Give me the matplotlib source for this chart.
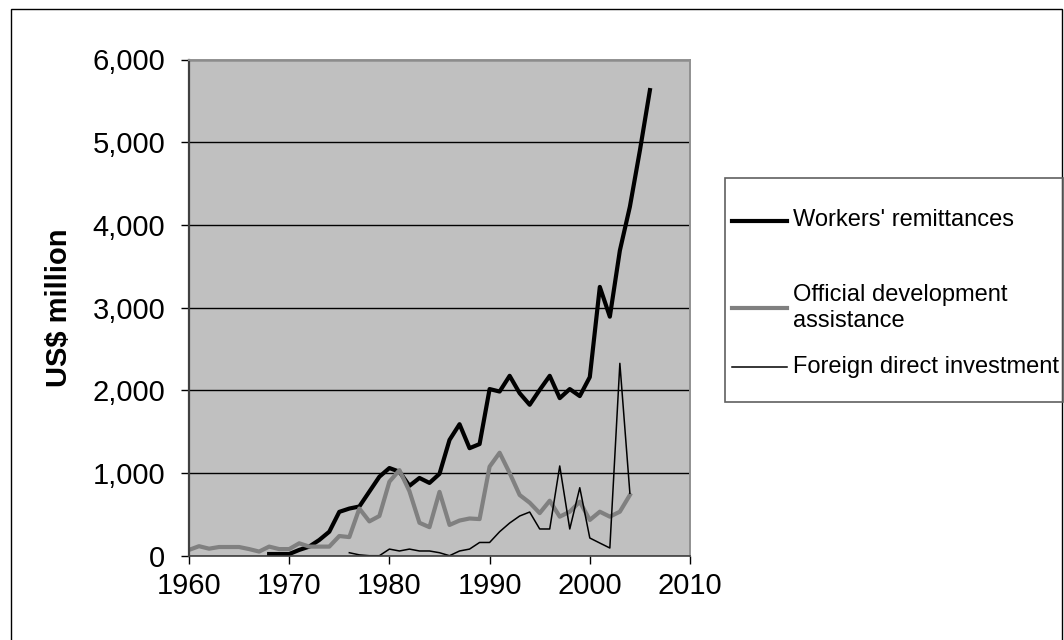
import numpy as np
import matplotlib
matplotlib.use("Agg")
import matplotlib.pyplot as plt
from matplotlib.lines import Line2D
from matplotlib.patches import Rectangle
from matplotlib.ticker import FuncFormatter

plt.rcParams['font.family'] = ['Liberation Sans', 'DejaVu Sans']

# data (US$ million)
rem_years = list(range(1968, 2007))
remittances = [20, 20, 20, 70, 110, 190, 290, 530, 570, 595,
               775, 955, 1060, 1015, 845, 940, 880, 990, 1400, 1590,
               1300, 1350, 2015, 1985, 2175, 1965, 1825, 2005, 2175, 1905,
               2015, 1930, 2160, 3250, 2890, 3690, 4220, 4900, 5630]

oda_years = list(range(1960, 2005))
oda = [70, 115, 85, 105, 105, 105, 80, 50, 110, 80,
       80, 150, 110, 110, 110, 238, 225, 570, 415, 480,
       895, 1035, 780, 398, 345, 772, 372, 425, 450, 443,
       1077, 1245, 1000, 734, 641, 515, 665, 472, 532, 653,
       432, 532, 472, 532, 734]

fdi_years = list(range(1976, 2005))
fdi = [36, 10, 0, 0, 80, 57, 80, 57, 57, 36,
       0, 57, 80, 160, 160, 290, 395, 480, 528, 323,
       323, 1085, 323, 822, 214, 153, 93, 2326, 755]

labels = ["Workers' remittances", "Official development\nassistance",
          "Foreign direct investment"]
colors = ['black', '#808080', 'black']
widths = [3.0, 3.0, 1.1]

W, H = 1064, 640
fig = plt.figure(figsize=(W / 100, H / 100), dpi=100)
ax = fig.add_axes([189 / W, 1 - 555.7 / H, (690 - 189) / W, (555.7 - 59.5) / H])
ax.set_facecolor('#C0C0C0')

ax.plot(rem_years, remittances, color=colors[0], lw=widths[0], solid_joinstyle='round')
ax.plot(oda_years, oda, color=colors[1], lw=widths[1], solid_joinstyle='round')
ax.plot(fdi_years, fdi, color=colors[2], lw=widths[2])

ax.set_xlim(1960, 2010)
ax.set_ylim(0, 6000)
ax.set_xticks(range(1960, 2011, 10))
ax.set_yticks(range(0, 6001, 1000))
ax.yaxis.set_major_formatter(FuncFormatter(lambda v, p: f'{int(v):,}'))
ax.grid(axis='y', color='black', lw=1.0)
ax.set_axisbelow(True)

ax.tick_params(axis='both', direction='out', length=6, width=1, color='black',
               labelsize=21)
ax.tick_params(axis='y', pad=11)
ax.tick_params(axis='x', pad=6)
ax.set_ylabel('US$ million', fontsize=21, fontweight='bold', labelpad=14)

ax.spines['left'].set_color('#404040')
ax.spines['left'].set_linewidth(1.6)
ax.spines['bottom'].set_color('#404040')
ax.spines['bottom'].set_linewidth(1.2)
for s in ['top', 'right']:
    ax.spines[s].set_color('#909090')
    ax.spines[s].set_linewidth(1.4)

# outer chart border
fig.add_artist(Rectangle((11 / W, -0.05), (1062 - 11) / W, 1.05 - 9 / H,
                         transform=fig.transFigure, fill=False,
                         edgecolor='black', lw=1.0))

# legend box
fig.add_artist(Rectangle((725 / W, 1 - 402 / H), (1063 - 725) / W, (402 - 178) / H,
                         transform=fig.transFigure, fill=False,
                         edgecolor='#606060', lw=1.2))
leg_y = [220.5, 308, 367]
for lab, c, lw, y in zip(labels, colors, widths, leg_y):
    fig.add_artist(Line2D([732 / W, 787 / W], [1 - y / H, 1 - y / H],
                          color=c, lw=lw, transform=fig.transFigure))
    fig.text(793 / W, 1 - y / H, lab, fontsize=17, va='center', ha='left',
             linespacing=1.2)

fig.savefig('out.png', dpi=100)
